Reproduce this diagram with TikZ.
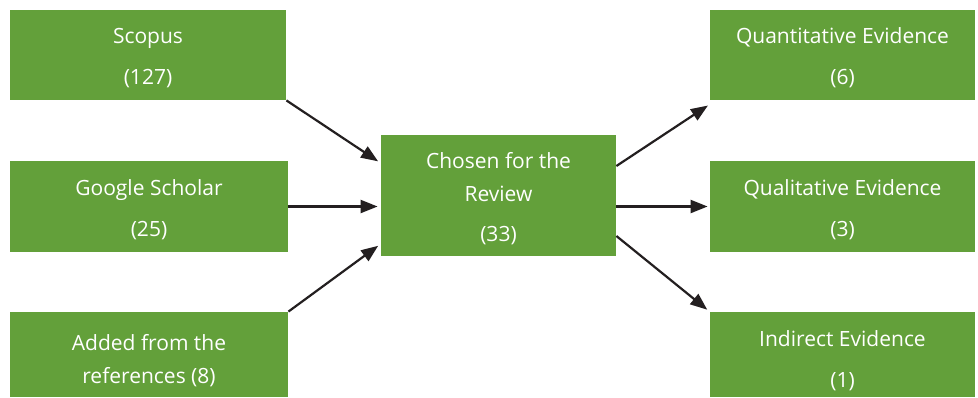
\documentclass[tikz,border=0pt]{standalone}
\usepackage{fontspec}
\setmainfont{Open Sans}
\usetikzlibrary{arrows.meta}
\definecolor{boxgreen}{RGB}{99,160,58}
\definecolor{linkgray}{RGB}{35,31,32}

\begin{document}
\begin{tikzpicture}[x=1pt, y=-1pt, thick]
\tikzstyle{box}=[fill=boxgreen, text=white, align=center, inner sep=0pt, font=\fontsize{21}{33}\selectfont]
\tikzstyle{link}=[line width=2.2pt, draw=linkgray, -{Triangle[length=17pt,width=13pt]}]

\useasboundingbox (0,0) rectangle (978,397);

% sources
\node[box, minimum width=276pt, minimum height=90pt] (scopus) at (148,55) {\rule{0pt}{22pt}Scopus\\[8pt](127)};
\node[box, minimum width=278pt, minimum height=91pt] (scholar) at (149,206.5) {\rule{0pt}{22pt}Google Scholar\\[8pt](25)};
\node[box, minimum width=278pt, minimum height=85pt] (added) at (149,354.5) {\rule{0pt}{28pt}Added from the\\references (8)};

% selection
\node[box, minimum width=235pt, minimum height=121pt] (chosen) at (498.5,195.5) {\rule{0pt}{22pt}Chosen for the\\Review\\[7pt](33)};

% evidence
\node[box, minimum width=265pt, minimum height=90pt] (quant) at (842.5,55) {\rule{0pt}{22pt}Quantitative Evidence\\[8pt](6)};
\node[box, minimum width=265pt, minimum height=91pt] (qual) at (842.5,206.5) {\rule{0pt}{22pt}Qualitative Evidence\\[8pt](3)};
\node[box, minimum width=265pt, minimum height=85pt] (indirect) at (842.5,354.5) {\rule{0pt}{28pt}Indirect Evidence\\[8pt](1)};

\draw[link, shorten >=3pt] (scopus.south east) -- ([yshift=32.5pt]chosen.west);
\draw[link, shorten >=3pt] (scholar.east) -- (scholar.east -| chosen.west);
\draw[link, shorten >=3pt] (added.north east) -- ([yshift=-48.5pt]chosen.west);
\draw[link, shorten >=2pt] ([yshift=29.5pt]chosen.east) -- ([yshift=-4pt]quant.south west);
\draw[link, shorten >=2pt] (qual.west -| chosen.east) -- (qual.west);
\draw[link, shorten >=3pt] ([yshift=-40.5pt]chosen.east) -- (indirect.north west);
\end{tikzpicture}
\end{document}
